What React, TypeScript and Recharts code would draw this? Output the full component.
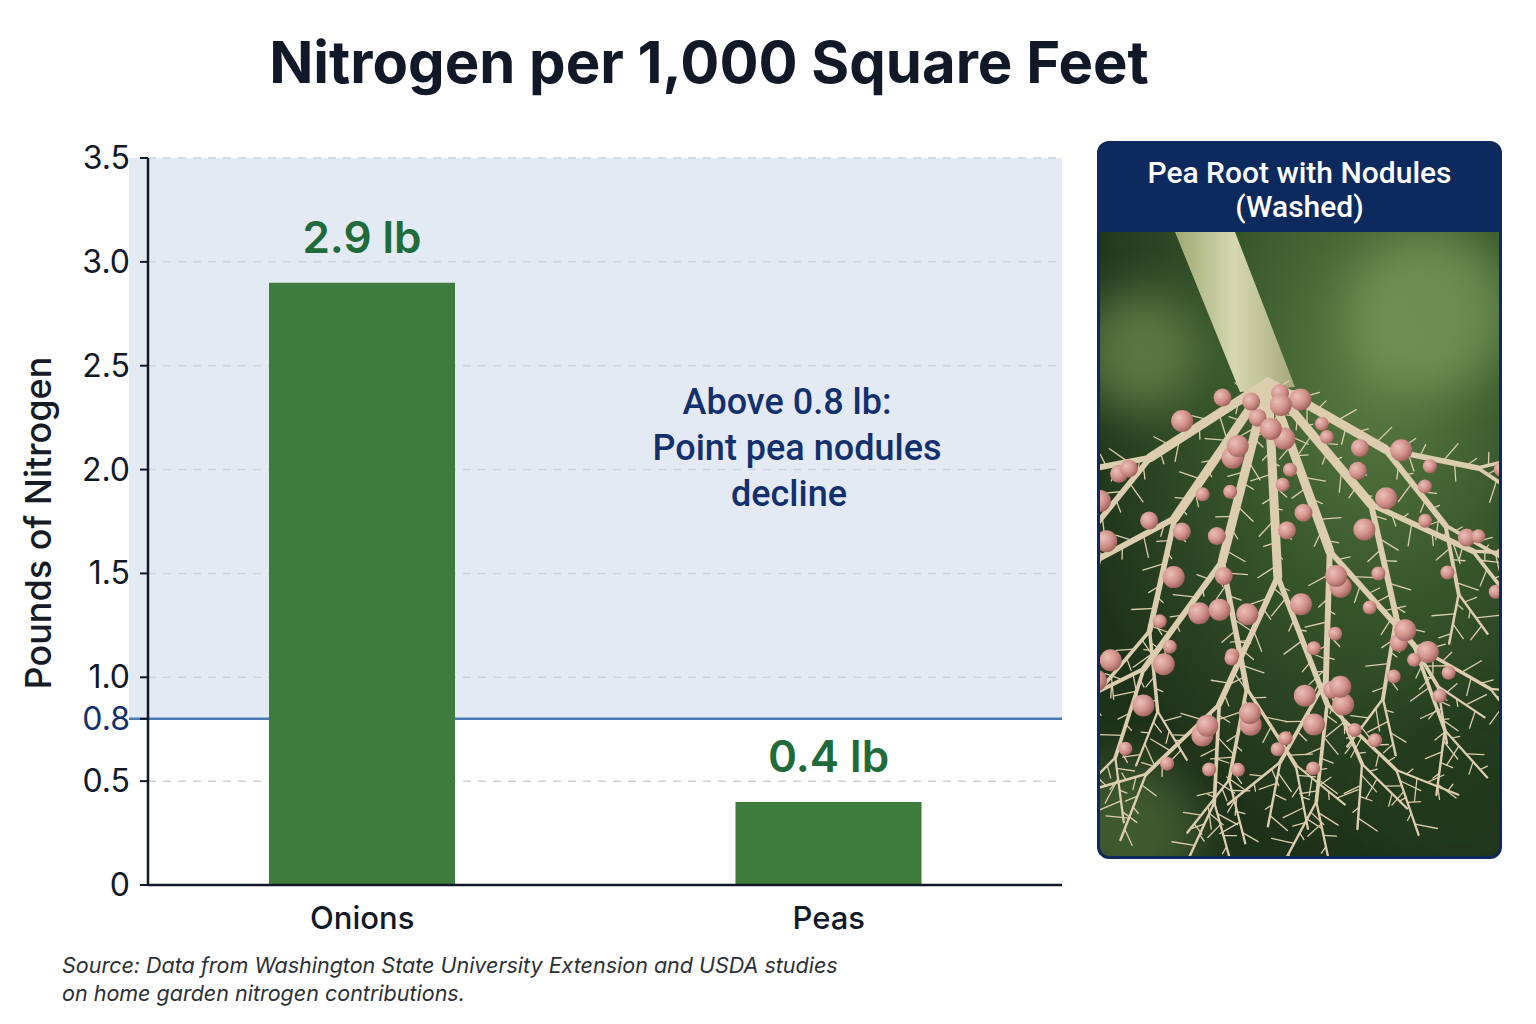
import React from 'react'
import {
  BarChart,
  Bar,
  XAxis,
  YAxis,
  CartesianGrid,
  ReferenceArea,
  LabelList,
} from 'recharts'

const crops = ['Onions', 'Peas']
const nitrogenLb = [2.9, 0.4]
const yTicks = [0, 0.5, 0.8, 1.0, 1.5, 2.0, 2.5, 3.0, 3.5]
const threshold = 0.8
const yMax = 3.5

const data = crops.map((crop, i) => ({ crop, value: nitrogenLb[i] }))

const NAVY = '#13306e'
const GREEN_BAR = '#3d7c3d'
const GREEN_TEXT = '#1f6b3a'
const INK = '#111827'

const fmtTick = (v: number) => (v === 0 ? '0' : v.toFixed(1))

const YTick = ({ x, y, payload }: any) => (
  <text
    x={x}
    y={y}
    dy={11}
    textAnchor="end"
    fontSize={32}
    fontFamily="Inter, sans-serif"
    fill={payload.value === threshold ? NAVY : INK}
  >
    {fmtTick(payload.value)}
  </text>
)

const XTick = ({ x, y, payload }: any) => (
  <text
    x={x}
    y={y}
    dy={44}
    textAnchor="middle"
    fontSize={31}
    fontWeight={500}
    fontFamily="Inter, sans-serif"
    fill={INK}
  >
    {payload.value}
  </text>
)

const BarValueLabel = ({ x, y, width, value }: any) => (
  <text
    x={x + width / 2}
    y={y - 30}
    textAnchor="middle"
    fontSize={44}
    fontWeight={600}
    fontFamily="Inter, sans-serif"
    fill={GREEN_TEXT}
  >
    {`${Number(value).toFixed(1)} lb`}
  </text>
)

// decorative stand-in for the root photo
type Seg = { x1: number; y1: number; x2: number; y2: number; w: number }
type Nod = { x: number; y: number; r: number }

function grow(segs: Seg[], nods: Nod[], x: number, y: number, ang: number, len: number, w: number, depth: number, k: number) {
  const x2 = x + Math.sin(ang) * len
  const y2 = y + Math.cos(ang) * len
  segs.push({ x1: x, y1: y, x2, y2, w })
  const n = Math.floor(len / 12)
  for (let i = 1; i <= n; i++) {
    const t = i / (n + 1)
    const px = x + (x2 - x) * t
    const py = y + (y2 - y) * t
    const side = i % 2 ? 1 : -1
    const ha = ang + side * (0.8 + ((i + k) % 3) * 0.25)
    const hl = 8 + ((i * 7 + k) % 4) * 5
    segs.push({ x1: px, y1: py, x2: px + Math.sin(ha) * hl, y2: py + Math.cos(ha) * hl, w: 1.3 })
    if (depth >= 1 && (i + k) % 4 === 0 && py < 560) {
      const r = 7 + ((i + k) % 3) * 2
      nods.push({ x: px + side * (w / 2 + r - 2) * Math.cos(ang), y: py - side * (w / 2 + r - 2) * Math.sin(ang), r })
    }
  }
  if (depth > 0) {
    grow(segs, nods, x2, y2, ang - 0.38 - (k % 2) * 0.1, len * 0.72, w * 0.66, depth - 1, k + 1)
    grow(segs, nods, x2, y2, ang + 0.32 + (k % 3) * 0.06, len * 0.7, w * 0.62, depth - 1, k + 2)
  }
}

const RootPhoto = ({ w, h }: { w: number; h: number }) => {
  const segs: Seg[] = []
  const nods: Nod[] = []
  const starts = [
    { a: -1.0, l: 140 },
    { a: -0.6, l: 165 },
    { a: -0.25, l: 185 },
    { a: 0.05, l: 195 },
    { a: 0.35, l: 180 },
    { a: 0.7, l: 160 },
    { a: 1.05, l: 135 },
  ]
  starts.forEach((s, i) => grow(segs, nods, 168, 150, s.a, s.l, 9, 3, i))
  return (
    <svg width={w} height={h} style={{ display: 'block' }}>
      <defs>
        <radialGradient id="bg1" cx="0.7" cy="0.2" r="0.8">
          <stop offset="0" stopColor="#5f7f45" />
          <stop offset="0.5" stopColor="#37552b" />
          <stop offset="1" stopColor="#1e3219" />
        </radialGradient>
        <linearGradient id="stem" x1="0" y1="0" x2="1" y2="0">
          <stop offset="0" stopColor="#9eaa72" />
          <stop offset="0.5" stopColor="#d6d8b2" />
          <stop offset="1" stopColor="#a5a77a" />
        </linearGradient>
        <filter id="blur"><feGaussianBlur stdDeviation="22" /></filter>
        <radialGradient id="nod" cx="0.35" cy="0.35" r="0.7">
          <stop offset="0" stopColor="#ecc0b8" />
          <stop offset="0.6" stopColor="#cf8f88" />
          <stop offset="1" stopColor="#9c5f5a" />
        </radialGradient>
      </defs>
      <rect width={w} height={h} fill="url(#bg1)" />
      <g filter="url(#blur)" opacity={0.7}>
        <circle cx={40} cy={120} r={60} fill="#6d8a50" />
        <circle cx={330} cy={80} r={80} fill="#7a9a5a" />
        <circle cx={360} cy={560} r={90} fill="#233a1e" />
        <circle cx={30} cy={600} r={70} fill="#4d6a3a" />
      </g>
      <path d="M75,0 L135,0 L195,155 L140,160 Z" fill="url(#stem)" />
      <g stroke="#dccdae" strokeLinecap="round">
        {segs.map((s, i) => (
          <line key={i} x1={s.x1} y1={s.y1} x2={s.x2} y2={s.y2} strokeWidth={s.w} />
        ))}
      </g>
      {nods.map((n, i) => (
        <circle key={i} cx={n.x} cy={n.y} r={n.r} fill="url(#nod)" />
      ))}
    </svg>
  )
}

export default function App() {
  return (
    <div
      style={{
        position: 'absolute',
        left: 0,
        top: 0,
        width: 1536,
        height: 1024,
        background: '#fff',
        fontFamily: 'Inter, sans-serif',
      }}
    >
      <div
        style={{
          position: 'absolute',
          left: 0,
          width: 1418,
          top: 22,
          textAlign: 'center',
          fontSize: 58,
          fontWeight: 700,
          color: INK,
          lineHeight: '80px',
        }}
      >
        Nitrogen per 1,000 Square Feet
      </div>

      <div style={{ position: 'absolute', left: 0, top: 0 }}>
        <BarChart
          width={1080}
          height={960}
          data={data}
          margin={{ top: 158, right: 18, bottom: 25, left: 88 }}
          barSize={186}
        >
          <ReferenceArea y1={threshold} y2={yMax} fill="#c9d6ea" fillOpacity={0.5} stroke="none" />
          <CartesianGrid vertical={false} stroke="#cdd1d8" strokeDasharray="8 7" strokeWidth={1.5} />
          {/* threshold line drawn as a thin band so the bars sit on top of it */}
          <ReferenceArea y1={threshold - 0.006} y2={threshold + 0.006} fill="#4a7ab6" fillOpacity={1} stroke="none" />
          <XAxis
            dataKey="crop"
            tick={<XTick />}
            tickLine={false}
            tickSize={0}
            tickMargin={0}
            padding={{ left: -19, right: 0 }}
            axisLine={{ stroke: INK, strokeWidth: 2.5 }}
            height={50}
          />
          <YAxis
            width={60}
            domain={[0, yMax]}
            ticks={yTicks}
            interval={0}
            tick={<YTick />}
            tickSize={8}
            tickMargin={10}
            tickLine={{ stroke: INK, strokeWidth: 2 }}
            axisLine={{ stroke: INK, strokeWidth: 2.5 }}
          />
          <Bar dataKey="value" fill={GREEN_BAR} isAnimationActive={false}>
            <LabelList dataKey="value" content={<BarValueLabel />} />
          </Bar>
        </BarChart>
      </div>

      <div
        style={{
          position: 'absolute',
          left: 38 - 200,
          top: 523 - 22,
          width: 400,
          height: 44,
          lineHeight: '44px',
          textAlign: 'center',
          transform: 'rotate(-90deg)',
          fontSize: 36,
          fontWeight: 500,
          color: '#161b26',
        }}
      >
        Pounds of Nitrogen
      </div>

      <div
        style={{
          position: 'absolute',
          left: 597,
          width: 400,
          top: 379,
          textAlign: 'center',
          fontFamily: 'Roboto, sans-serif',
          fontSize: 36,
          fontWeight: 500,
          lineHeight: '46px',
          color: NAVY,
        }}
      >
        <div style={{ marginLeft: -20 }}>Above 0.8 lb:</div>
        <div>Point pea nodules</div>
        <div style={{ marginLeft: -16 }}>decline</div>
      </div>

      <div
        style={{
          position: 'absolute',
          left: 62,
          top: 951,
          fontSize: 21.5,
          fontStyle: 'italic',
          lineHeight: '28px',
          color: '#2b2f36',
        }}
      >
        Source: Data from Washington State University Extension and USDA studies
        <br />
        on home garden nitrogen contributions.
      </div>

      <div
        style={{
          position: 'absolute',
          left: 1097,
          top: 141,
          width: 399,
          height: 712,
          border: '3px solid #0c2a5e',
          borderRadius: 12,
          overflow: 'hidden',
          background: '#0c2a5e',
        }}
      >
        <div
          style={{
            height: 88,
            display: 'flex',
            flexDirection: 'column',
            justifyContent: 'center',
            alignItems: 'center',
            color: '#fff',
            fontFamily: 'Roboto, sans-serif',
            fontSize: 30,
            fontWeight: 500,
            lineHeight: '34px',
            paddingTop: 4,
            boxSizing: 'border-box',
          }}
        >
          <div>Pea Root with Nodules</div>
          <div>(Washed)</div>
        </div>
        <RootPhoto w={399} h={624} />
      </div>
    </div>
  )
}
